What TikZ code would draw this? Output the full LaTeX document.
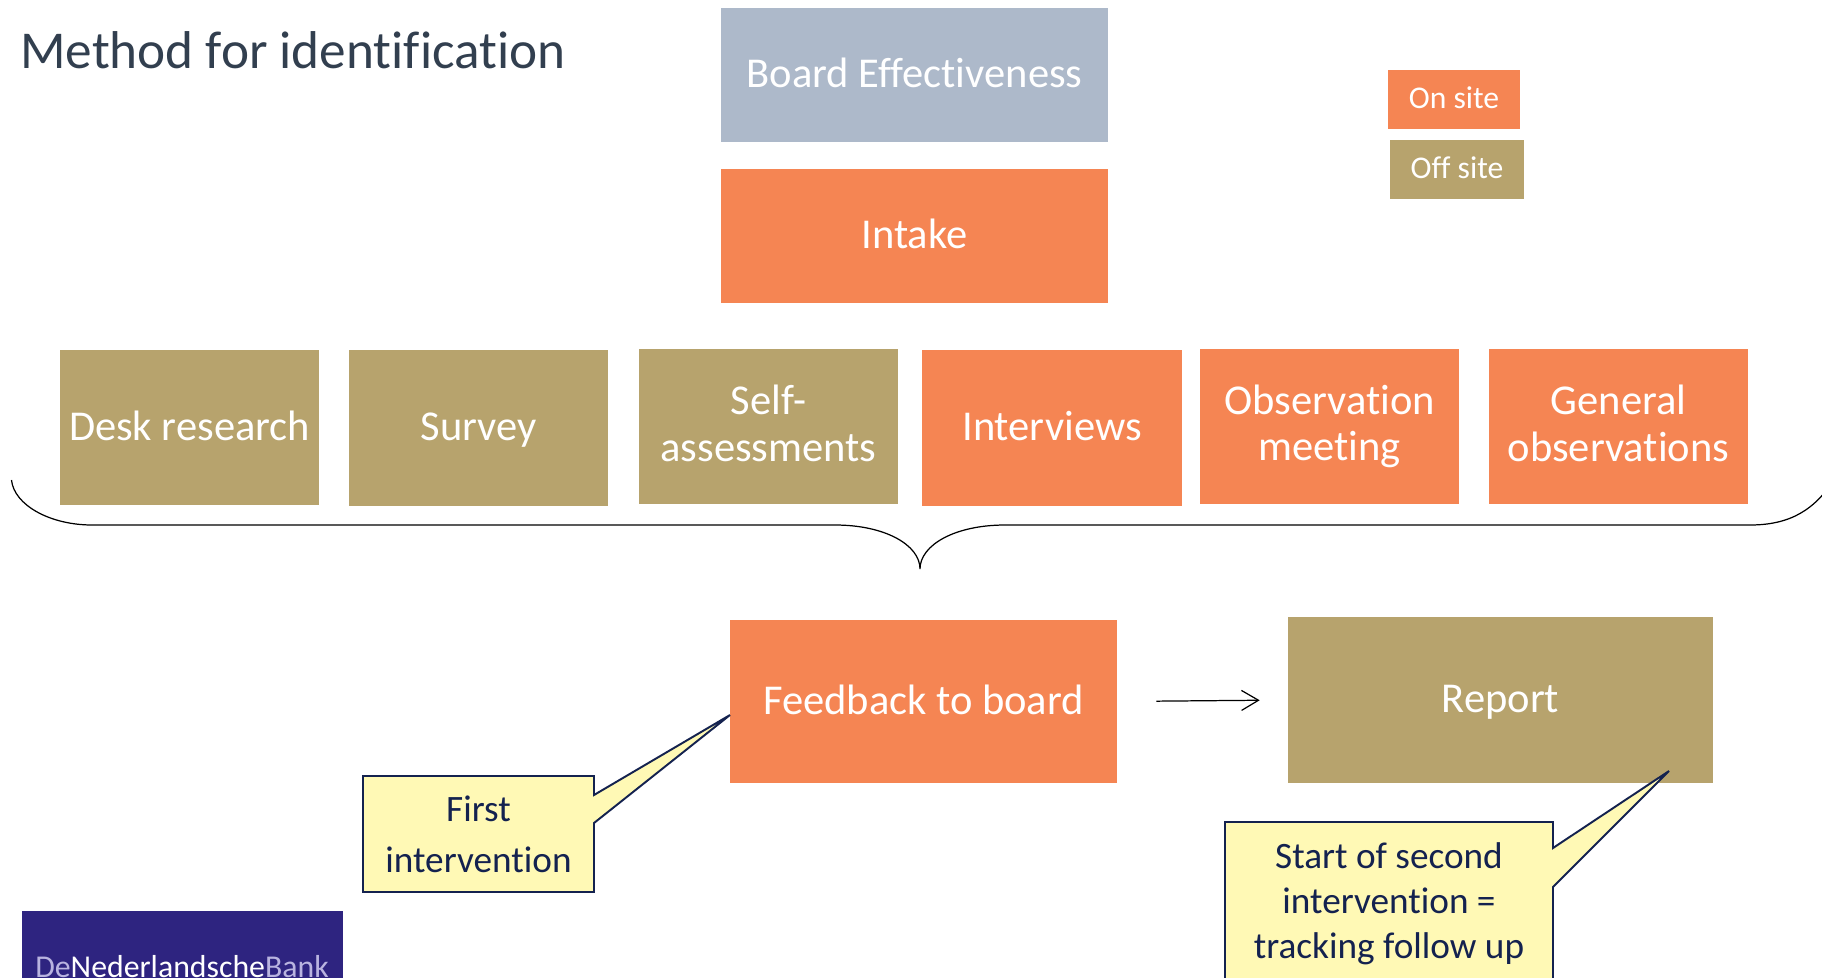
\documentclass[tikz,border=0pt]{standalone}
\usepackage{fontspec}
\setmainfont{Carlito}[Ligatures=CommonOff]
\usetikzlibrary{calc,arrows.meta}

\definecolor{onsite}{HTML}{F58553}
\definecolor{offsite}{HTML}{B7A36D}
\definecolor{boardblue}{HTML}{ADB9CA}
\definecolor{titlegrey}{HTML}{323F4F}
\definecolor{noteyellow}{HTML}{FFF9B5}
\definecolor{noteline}{HTML}{14224F}
\definecolor{dnbblue}{HTML}{2E2480}
\definecolor{dnblight}{HTML}{B9B4E0}

\tikzset{
    block/.style={inner sep=0pt,align=center,text=white,font=\fontsize{24.2}{26.5}\selectfont,execute at begin node={\rule{0pt}{0.75em}},execute at end node={\rule[-0.15em]{0pt}{0.15em}}},
    note/.style={inner sep=0pt,align=center,text=noteline,fill=noteyellow},
    wedge/.style={draw=noteline,line width=1.1pt,fill=noteyellow,line join=miter}
}

\begin{document}
\begin{tikzpicture}[x=0.02cm,y=-0.02cm]
    \useasboundingbox (0,0) rectangle (1822,977);
    \clip (0,0) rectangle (1822,977);

    \node[anchor=west,inner sep=0pt,text=titlegrey,font=\fontsize{30.3}{33}\selectfont] (title) at (20,50) {Method for identification};

    % top blocks and legend
    \node[block,fill=boardblue,minimum width=7.74cm,minimum height=2.68cm] (board) at (914.5,75) {Board Effectiveness};
    \node[block,fill=onsite,minimum width=7.74cm,minimum height=2.68cm] (intake) at (914.5,236) {Intake};
    \node[block,fill=onsite,minimum width=2.64cm,minimum height=1.18cm,font=\fontsize{18}{20}\selectfont] (onbox) at (1454,99.5) {On site};
    \node[block,fill=offsite,minimum width=2.68cm,minimum height=1.18cm,font=\fontsize{18}{20}\selectfont] (offbox) at (1457,169.5) {Off site};

    % row of methods
    \foreach \m/\u/\v/\w/\c/\t in {desk/189.5/427.5/5.18cm/offsite/{Desk research},survey/478.5/428/5.18cm/offsite/{Survey},selfas/768.5/426.5/5.18cm/offsite/{Self-\\assessments},interviews/1052/428/5.22cm/onsite/{Interviews},observation/1329.5/426.5/5.18cm/onsite/{Observation\\meeting},general/1618.5/426.5/5.18cm/onsite/{General\\observations}}{
        \node[block,fill=\c,minimum width=\w,minimum height=3.12cm] (\m) at (\u,\v) {\t};
    }

    % brace under the row
    \coordinate (braceleft) at (11.5,480);
    \coordinate (bracetip) at (920,569);
    \coordinate (braceright) at (1835,478);
    \draw[line width=0.7pt] (braceleft) .. controls (14,505) and (50,525) .. (92,525) -- (835,525)
        .. controls (885,525) and (920,545) .. (bracetip)
        .. controls (920,545) and (955,525) .. (1005,525) -- (1750,525)
        .. controls (1790,525) and (1815,510) .. (braceright);

    % callouts go below the blocks they point at
    \coordinate (firsttip) at (730,715);
    \coordinate (secondtip) at (1669,771);

    \node[block,fill=onsite,minimum width=7.74cm,minimum height=3.26cm] (feedback) at (923.5,701.5) {Feedback to board};
    \node[block,fill=offsite,minimum width=8.5cm,minimum height=3.32cm] (report) at (1500.5,700) {Report};

    \draw[-{Straight Barb[length=0.34cm,width=0.4cm]},line width=0.7pt,shorten <=0.78cm,shorten >=0.56cm] (feedback.east) -- (report.west);

    \draw[wedge] (363,776) -- (594,776) -- (594,795) -- (firsttip) -- (594,823) -- (594,892) -- (363,892) -- cycle;
    \node[note,font=\fontsize{21.2}{29}\selectfont,minimum width=4.54cm,minimum height=2.24cm] (first) at (478.5,834.5) {First\\intervention};

    \draw[wedge] (1225,822) -- (1553,822) -- (1553,848) -- (secondtip) -- (1553,887) -- (1553,990) -- (1225,990) -- cycle;
    \node[note,font=\fontsize{21.2}{25.5}\selectfont,minimum width=6.48cm,minimum height=3cm] (second) at (1389,904) {Start of second\\intervention =\\tracking follow up};

    % logo, cut off by the page edge
    \fill[dnbblue] (22,911) rectangle (343,990);
    \node[anchor=base west,inner sep=0pt,font=\fontsize{18.1}{20}\selectfont,text=white] (logo) at (35,977) {\textcolor{dnblight}{De}Nederlandsche\textcolor{dnblight}{Bank}};
\end{tikzpicture}
\end{document}
